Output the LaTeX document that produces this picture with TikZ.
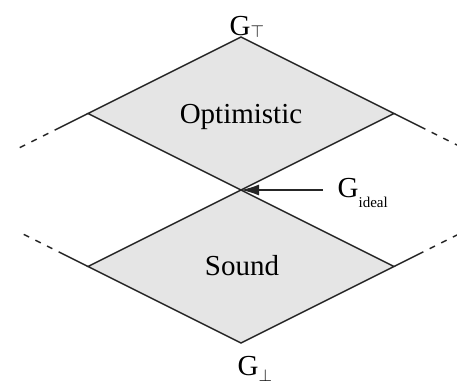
\documentclass[tikz,border=0pt]{standalone}
\usepackage{fontspec}
\setmainfont{Liberation Serif}
\usetikzlibrary{arrows.meta}

\begin{document}
\begin{tikzpicture}[x=1pt,y=-1pt,line width=1.4pt,
  lattice/.style={draw=black!85,fill=black!10,line join=miter},
  ext/.style={draw=black!85},
  extdash/.style={draw=black!85,dash pattern=on 6pt off 7pt},
  lbl/.style={inner sep=0pt,font=\fontsize{29}{31}\selectfont}]
\useasboundingbox (0,0) rectangle (457,383);

% vertices
\coordinate (top) at (241,37);
\coordinate (ul) at (88,113.5);
\coordinate (ur) at (394,113.5);
\coordinate (mid) at (241,190);
\coordinate (ll) at (88,266.5);
\coordinate (lr) at (394,266.5);
\coordinate (bot) at (241,343);

% ends of the outer lines
\coordinate (ul1) at (60,127.5);
\coordinate (ul2) at (14,150.5);
\coordinate (ur1) at (420,126.5);
\coordinate (ur2) at (457,145);
\coordinate (ll1) at (64,254.5);
\coordinate (ll2) at (18,231.5);
\coordinate (lr1) at (418,254.5);
\coordinate (lr2) at (457,235);

\draw[lattice] (top) -- (ur) -- (mid) -- (ul) -- cycle;
\draw[lattice] (mid) -- (lr) -- (bot) -- (ll) -- cycle;

\draw[ext] (ul) -- (ul1);
\draw[extdash] (ul1) -- (ul2);
\draw[ext] (ur) -- (ur1);
\draw[extdash] (ur1) -- (ur2);
\draw[ext] (ll) -- (ll1);
\draw[extdash] (ll1) -- (ll2);
\draw[ext] (lr) -- (lr1);
\draw[extdash] (lr1) -- (lr2);

\node[lbl,anchor=base] (opt) at (241,123) {Optimistic};
\node[lbl,anchor=base] (snd) at (242,275) {Sound};

\node[lbl,anchor=base west] (gtop) at (229,35)
  {G\raisebox{-2pt}{\fontsize{16}{16}\selectfont$\top$}};
\node[lbl,anchor=base west] (gbot) at (237,375)
  {G\raisebox{-6pt}{\fontsize{16}{16}\selectfont$\bot$}};
\node[lbl,anchor=base west] (gideal) at (337,197)
  {G\raisebox{-10pt}{\fontsize{15}{15}\selectfont ideal}};

\coordinate (tail) at (323,190);
\draw[draw=black!85,-{Latex[length=18pt,width=11pt]}] (tail) -- (mid);
\end{tikzpicture}
\end{document}
